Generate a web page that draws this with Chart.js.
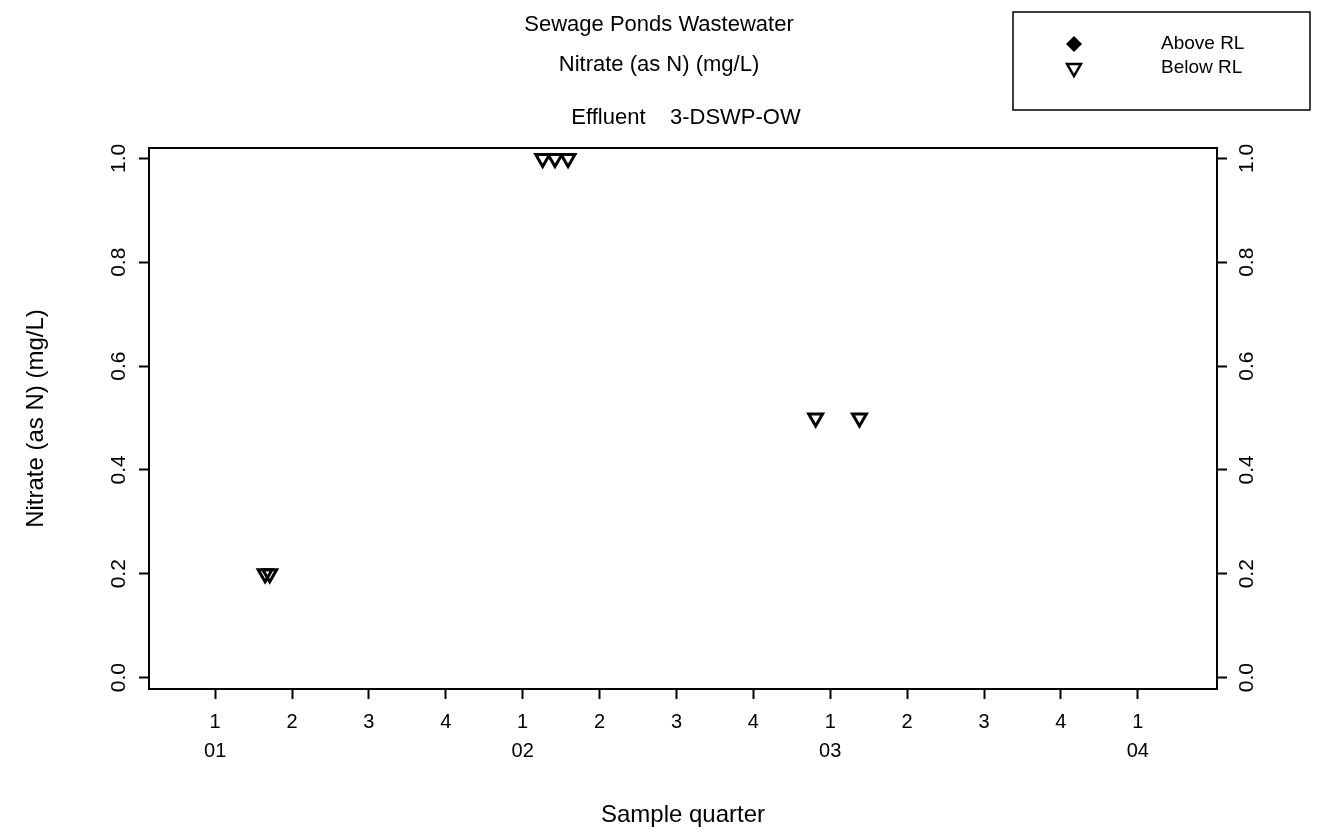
<!DOCTYPE html>
<html>
<head>
<meta charset="utf-8">
<title>Sewage Ponds Wastewater - Nitrate</title>
<script src="https://cdn.jsdelivr.net/npm/chart.js@4.4.0/dist/chart.umd.min.js"></script>
<style>
  html, body { margin: 0; padding: 0; background: #fff; }
</style>
</head>
<body>
<canvas id="nitrateChart" width="1318" height="832"></canvas>
<script>
//Data - x is the sample quarter counted from 2001 Q1 (0 = 01 Q1)
var quarterTicks = [0, 1, 2, 3, 4, 5, 6, 7, 8, 9, 10, 11, 12];
var quarterLabels = ["1", "2", "3", "4", "1", "2", "3", "4", "1", "2", "3", "4", "1"];
var yearLabels = ["01", "", "", "", "02", "", "", "", "03", "", "", "", "04"];
var valueTicks = [0, 0.2, 0.4, 0.6, 0.8, 1.0];

var aboveQuarter = [];
var aboveValue = [];
var belowQuarter = [0.65, 0.71, 4.26, 4.42, 4.59, 7.81, 8.38];
var belowValue = [0.2, 0.2, 1.0, 1.0, 1.0, 0.5, 0.5];

var fontFamily = "'Liberation Sans', Arial, Helvetica, sans-serif";

function toPoints(xs, ys) {
  return xs.map(function (x, i) { return { x: x, y: ys[i] }; });
}

//Box around the plot area
var framePlugin = {
  id: "frame",
  afterDraw: function (chart) {
    var a = chart.chartArea;
    var ctx = chart.ctx;
    ctx.save();
    ctx.strokeStyle = "#000";
    ctx.lineWidth = 2;
    ctx.strokeRect(a.left, a.top, a.right - a.left, a.bottom - a.top);
    ctx.restore();
  }
};

//Second title line, centred over the plot
var stationPlugin = {
  id: "station",
  afterDraw: function (chart) {
    var a = chart.chartArea;
    var ctx = chart.ctx;
    ctx.save();
    ctx.fillStyle = "#000";
    ctx.font = "22px " + fontFamily;
    ctx.textAlign = "center";
    ctx.textBaseline = "middle";
    ctx.fillText("Effluent    3-DSWP-OW", (a.left + a.right) / 2 + 3, 118);
    ctx.restore();
  }
};

//Legend box in the top right corner
var legendBoxPlugin = {
  id: "legendBox",
  afterDraw: function (chart) {
    var ctx = chart.ctx;
    ctx.save();
    ctx.strokeStyle = "#000";
    ctx.lineWidth = 1.5;
    ctx.strokeRect(1013, 12, 297, 98);
    chart.data.datasets.forEach(function (ds, i) {
      var y = 44 + i * 24;
      ctx.fillStyle = ds.backgroundColor;
      ctx.strokeStyle = ds.borderColor;
      ctx.lineWidth = 2.5;
      Chart.helpers.drawPoint(ctx, {
        pointStyle: ds.pointStyle,
        rotation: ds.rotation || 0,
        radius: 8,
        borderWidth: ds.pointStyle === "rectRot" ? 0 : 2.5
      }, 1074, y);
      ctx.fillStyle = "#000";
      ctx.font = "19px " + fontFamily;
      ctx.textAlign = "left";
      ctx.textBaseline = "middle";
      ctx.fillText(ds.label, 1161, y);
    });
    ctx.restore();
  }
};

var ctx = document.getElementById("nitrateChart").getContext("2d");
var chart = new Chart(ctx, {
  type: "scatter",
  data: {
    datasets: [
      {
        label: "Above RL",
        data: toPoints(aboveQuarter, aboveValue),
        pointStyle: "rectRot",
        pointRadius: 8,
        backgroundColor: "#000",
        borderColor: "#000",
        borderWidth: 0
      },
      {
        label: "Below RL",
        data: toPoints(belowQuarter, belowValue),
        pointStyle: "triangle",
        rotation: 180,
        pointRadius: 8,
        backgroundColor: "rgba(0,0,0,0)",
        borderColor: "#000",
        borderWidth: 3
      }
    ]
  },
  options: {
    responsive: false,
    animation: false,
    devicePixelRatio: 1,
    layout: { padding: 0 },
    plugins: {
      legend: { display: false },
      tooltip: { enabled: false },
      title: {
        display: true,
        text: ["Sewage Ponds Wastewater", "Nitrate (as N) (mg/L)"],
        color: "#000",
        font: { family: fontFamily, size: 22, weight: "normal", lineHeight: 1.818 },
        padding: { top: 5, bottom: 63 }
      }
    },
    scales: {
      x: {
        type: "linear",
        min: -0.86,
        max: 13.03,
        afterBuildTicks: function (scale) {
          scale.ticks = quarterTicks.map(function (v) { return { value: v }; });
        },
        afterFit: function (scale) { scale.height = 143; },
        ticks: {
          autoSkip: false,
          maxRotation: 0,
          padding: 9,
          color: "#000",
          font: { family: fontFamily, size: 20, lineHeight: 1.45 },
          callback: function (value) {
            var i = quarterTicks.indexOf(value);
            return yearLabels[i] ? [quarterLabels[i], yearLabels[i]] : quarterLabels[i];
          }
        },
        grid: { drawOnChartArea: false, tickLength: 10, tickWidth: 2, tickColor: "#000" },
        border: { color: "#000", width: 2 },
        title: {
          display: true,
          text: "Sample quarter",
          color: "#000",
          font: { family: fontFamily, size: 24 },
          padding: { top: 0, bottom: 2 }
        }
      },
      y: {
        position: "left",
        min: -0.022,
        max: 1.02,
        afterBuildTicks: function (scale) {
          scale.ticks = valueTicks.map(function (v) { return { value: v }; });
        },
        afterFit: function (scale) { scale.width = 149; },
        ticks: {
          minRotation: 90,
          maxRotation: 90,
          crossAlign: "center",
          padding: 5,
          color: "#000",
          font: { family: fontFamily, size: 21 },
          callback: function (value) { return value.toFixed(1); }
        },
        grid: { drawOnChartArea: false, tickLength: 10, tickWidth: 2, tickColor: "#000" },
        border: { color: "#000", width: 2 },
        title: {
          display: true,
          text: "Nitrate (as N) (mg/L)",
          color: "#000",
          font: { family: fontFamily, size: 24 },
          padding: { top: 22, bottom: 0 }
        }
      },
      y2: {
        position: "right",
        min: -0.022,
        max: 1.02,
        afterBuildTicks: function (scale) {
          scale.ticks = valueTicks.map(function (v) { return { value: v }; });
        },
        afterFit: function (scale) { scale.width = 101; },
        ticks: {
          minRotation: 90,
          maxRotation: 90,
          crossAlign: "center",
          padding: 6,
          color: "#000",
          font: { family: fontFamily, size: 21 },
          callback: function (value) { return value.toFixed(1); }
        },
        grid: { drawOnChartArea: false, tickLength: 10, tickWidth: 2, tickColor: "#000" },
        border: { color: "#000", width: 2 }
      }
    }
  },
  plugins: [framePlugin, stationPlugin, legendBoxPlugin]
});
</script>
</body>
</html>
